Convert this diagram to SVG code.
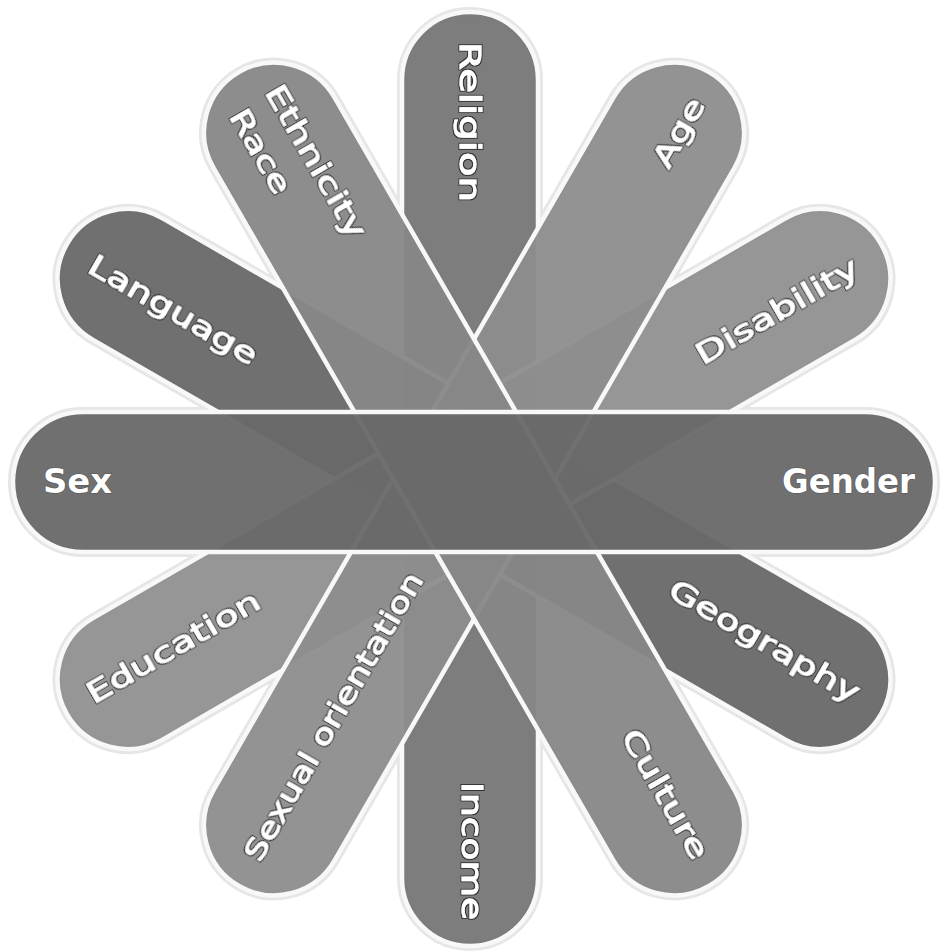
<svg xmlns="http://www.w3.org/2000/svg" xmlns:xlink="http://www.w3.org/1999/xlink" width="940" height="951" viewBox="0 0 940 951">
<style>
.glow{fill:none;stroke:#e6e6e6;stroke-width:10}
.bar{stroke:#f8f8f8;stroke-width:4.5;fill-opacity:0.95}
.lbl{font-family:"DejaVu Sans",Verdana,"Liberation Sans",sans-serif;font-size:28px;fill:#ffffff;stroke:#ffffff;stroke-width:0.9;filter:url(#outline)}
.main{font-family:"DejaVu Sans",Verdana,"Liberation Sans",sans-serif;font-size:33px;font-weight:bold;fill:#ffffff;stroke:#555555;stroke-width:1.2;paint-order:stroke}
</style>
<defs>
<filter id="outline" x="-10%" y="-30%" width="120%" height="160%">
<feMorphology in="SourceAlpha" operator="dilate" radius="1.1" result="fat"/>
<feFlood flood-color="#333333"/>
<feComposite in2="fat" operator="in" result="edge"/>
<feMerge><feMergeNode in="edge"/><feMergeNode in="SourceGraphic"/></feMerge>
</filter>
<rect id="pH" x="-461" y="-70" width="922" height="140" rx="70"/>
<rect id="pV" x="-467" y="-68" width="934" height="136" rx="68"/>
<rect id="pD" x="-470" y="-70" width="940" height="140" rx="70"/>
</defs>
<rect width="940" height="951" fill="#ffffff"/>
<g id="glow" class="glow">
<use xlink:href="#pV" transform="translate(470,479) rotate(90)"/>
<use xlink:href="#pD" transform="translate(474,479) rotate(30)"/>
<use xlink:href="#pD" transform="translate(474,479) rotate(-30)"/>
<use xlink:href="#pD" transform="translate(474,479) rotate(-60)"/>
<use xlink:href="#pD" transform="translate(474,479) rotate(60)"/>
<use xlink:href="#pH" transform="translate(474,482)"/>
</g>
<g id="connectors"></g>
<g id="religion-income">
<use xlink:href="#pV" class="bar" fill="#767676" transform="translate(470,479) rotate(90)"/>
<text class="lbl" x="-437" y="10" textLength="160" lengthAdjust="spacingAndGlyphs" transform="translate(470,479) rotate(90)">Religion</text>
<text class="lbl" x="303" y="8" textLength="138" lengthAdjust="spacingAndGlyphs" transform="translate(470,479) rotate(90)">Income</text>
</g>
<g id="language-geography">
<use xlink:href="#pD" class="bar" fill="#686868" transform="translate(474,479) rotate(30)"/>
<text class="lbl" x="-440" y="14" textLength="190" lengthAdjust="spacingAndGlyphs" transform="translate(474,479) rotate(30)">Language</text>
<text class="lbl" x="225" y="5" textLength="215" lengthAdjust="spacingAndGlyphs" transform="translate(474,479) rotate(30)">Geography</text>
</g>
<g id="disability-education">
<use xlink:href="#pD" class="bar" fill="#909090" transform="translate(474,479) rotate(-30)"/>
<text class="lbl" x="255" y="16" textLength="183" lengthAdjust="spacingAndGlyphs" transform="translate(474,479) rotate(-30)">Disability</text>
<text class="lbl" x="-442" y="5" textLength="195" lengthAdjust="spacingAndGlyphs" transform="translate(474,479) rotate(-30)">Education</text>
</g>
<g id="age-sexual-orientation">
<use xlink:href="#pD" class="bar" fill="#8d8d8d" transform="translate(474,479) rotate(-60)"/>
<text class="lbl" x="365" y="14" textLength="75" lengthAdjust="spacingAndGlyphs" transform="translate(474,479) rotate(-60)">Age</text>
<text class="lbl" x="-440" y="7" textLength="328" lengthAdjust="spacingAndGlyphs" transform="translate(474,479) rotate(-60)">Sexual orientation</text>
</g>
<g id="ethnicity-culture">
<use xlink:href="#pD" class="bar" fill="#878787" transform="translate(474,479) rotate(60)"/>
<text class="lbl" x="-440" y="-12" textLength="172" lengthAdjust="spacingAndGlyphs" transform="translate(474,479) rotate(60)">Ethnicity</text>
<text class="lbl" x="-437" y="31" textLength="93" lengthAdjust="spacingAndGlyphs" transform="translate(474,479) rotate(60)">Race</text>
<text class="lbl" x="296" y="2" textLength="145" lengthAdjust="spacingAndGlyphs" transform="translate(474,479) rotate(60)">Culture</text>
</g>
<g id="sex-gender">
<use xlink:href="#pH" class="bar" fill="#686868" fill-opacity="0.96" transform="translate(474,482)"/>
<text class="main" x="43" y="493" textLength="69" lengthAdjust="spacingAndGlyphs">Sex</text>
<text class="main" x="782" y="493" textLength="133" lengthAdjust="spacingAndGlyphs">Gender</text>
</g>
</svg>
